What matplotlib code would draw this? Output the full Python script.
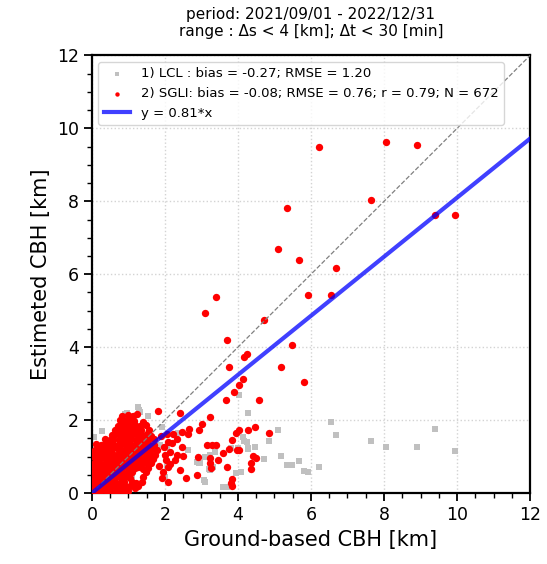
import numpy as np
import matplotlib
matplotlib.use('Agg')
import matplotlib.pyplot as plt

# 散点数据：地基观测的云底高度 (km) 与卫星 / LCL 估计值
# 密集区（0-2 km）的 SGLI 点
cluster_x = [
    0.03, 0.16, 0.27, 0.40, 0.50, 0.64, 0.74, 0.88, 0.99,
    0.08, 0.21, 0.31, 0.45, 0.55, 0.69, 0.79, 0.93, 1.03, 1.17, 1.27,
    0.02, 0.15, 0.25, 0.39, 0.49, 0.63, 0.73, 0.87, 1.11, 1.21, 1.37,
    0.09, 0.19, 0.33, 0.43, 0.57, 0.67, 0.81, 0.91, 1.05, 1.41,
    0.03, 0.13, 0.27, 0.37, 0.51, 0.61, 0.75, 0.85, 0.99, 1.09, 1.48,
    0.08, 0.21, 0.31, 0.45, 0.55, 0.69, 0.79, 0.93, 1.03, 1.17, 1.27, 1.41, 1.55,
    0.02, 0.15, 0.25, 0.39, 0.49, 0.63, 0.73, 0.87, 0.97, 1.11, 1.21, 1.35, 1.47, 1.61,
    0.09, 0.19, 0.33, 0.43, 0.57, 0.67, 0.81, 0.91, 1.05, 1.15, 1.29, 1.39, 1.53, 1.67,
    0.03, 0.13, 0.27, 0.37, 0.51, 0.61, 0.75, 0.85, 0.99, 1.09, 1.23, 1.33, 1.47, 1.59, 1.73,
    0.08, 0.21, 0.31, 0.45, 0.55, 0.69, 0.79, 0.93, 1.03, 1.17, 1.27, 1.41, 1.51, 1.65, 1.79,
    0.11, 0.25, 0.35, 0.49, 0.59, 0.73, 0.83, 0.97, 1.07, 1.21, 1.31, 1.45, 1.57, 1.71,
    0.36, 0.49, 0.59, 0.73, 0.83, 0.97, 1.07, 1.21, 1.31, 1.45, 1.55, 1.69,
    0.55, 0.66, 0.79, 0.89, 1.03, 1.13, 1.27, 1.37, 1.51, 1.63,
    0.63, 0.75, 0.85, 0.99, 1.09, 1.23, 1.35, 1.57,
    0.71, 0.81, 0.95, 1.05, 1.19, 1.31, 1.49,
    0.77, 0.91, 1.01, 1.15, 1.41,
    0.82, 0.99, 1.12, 1.24, 1.82,
]
cluster_y = [
    0.05, 0.03, 0.07, 0.02, 0.06, 0.04, 0.08, 0.03, 0.05,
    0.17, 0.14, 0.19, 0.15, 0.18, 0.13, 0.17, 0.16, 0.19, 0.14, 0.18,
    0.30, 0.27, 0.31, 0.28, 0.32, 0.29, 0.26, 0.31, 0.30, 0.27, 0.31,
    0.41, 0.44, 0.40, 0.43, 0.42, 0.45, 0.40, 0.43, 0.41, 0.45,
    0.56, 0.53, 0.57, 0.54, 0.55, 0.58, 0.53, 0.56, 0.54, 0.57, 0.57,
    0.69, 0.66, 0.70, 0.67, 0.71, 0.68, 0.66, 0.70, 0.67, 0.69, 0.71, 0.66, 0.69,
    0.80, 0.83, 0.79, 0.82, 0.80, 0.84, 0.81, 0.79, 0.83, 0.80, 0.82, 0.79, 0.83, 0.81,
    0.95, 0.92, 0.96, 0.93, 0.94, 0.97, 0.92, 0.95, 0.93, 0.96, 0.94, 0.92, 0.96, 0.93,
    1.06, 1.09, 1.05, 1.08, 1.07, 1.05, 1.09, 1.06, 1.08, 1.05, 1.07, 1.09, 1.06, 1.08, 1.05,
    1.19, 1.22, 1.18, 1.21, 1.20, 1.23, 1.19, 1.21, 1.18, 1.22, 1.20, 1.19, 1.23, 1.20, 1.18,
    1.34, 1.31, 1.35, 1.32, 1.34, 1.31, 1.35, 1.33, 1.31, 1.34, 1.32, 1.35, 1.31, 1.33,
    1.47, 1.44, 1.48, 1.45, 1.47, 1.44, 1.48, 1.46, 1.44, 1.47, 1.45, 1.48,
    1.58, 1.61, 1.57, 1.60, 1.59, 1.62, 1.58, 1.60, 1.61, 1.57,
    1.73, 1.70, 1.74, 1.71, 1.73, 1.70, 1.74, 1.72,
    1.84, 1.87, 1.85, 1.83, 1.86, 1.84, 1.87,
    1.99, 1.97, 2.00, 1.98, 1.96,
    2.11, 2.13, 2.10, 2.17, 2.25,
]

# 密集区外散开的 SGLI 点
scatter_x = [1.97, 2.05, 2.09, 2.20, 2.23, 2.14, 2.32, 2.32, 2.27, 2.03, 2.46, 2.41,
             2.48, 2.50, 2.63, 2.67, 2.94, 3.02, 3.23, 3.67, 1.95, 2.09, 2.59, 2.87,
             2.09, 3.14, 3.28, 3.40, 3.23, 3.23, 3.46, 3.58, 3.69, 3.85, 3.98, 4.04,
             3.96, 4.02, 3.85, 3.82, 3.84, 4.02, 3.90, 2.91, 3.26, 3.75, 1.88, 1.85,
             2.00, 2.15, 2.40, 1.92, 4.48, 4.27, 4.40, 4.49, 4.36, 4.36, 3.76, 4.14]
scatter_y = [1.27, 1.61, 1.40, 1.36, 1.61, 1.13, 1.47, 1.04, 0.91, 0.91, 1.68, 2.19,
             1.27, 1.01, 1.61, 1.75, 1.73, 1.89, 2.08, 2.55, 0.58, 0.70, 0.40, 0.49,
             0.31, 1.32, 1.32, 1.31, 0.95, 0.83, 0.91, 1.09, 0.70, 1.45, 1.18, 1.18,
             1.65, 1.73, 0.38, 0.28, 0.19, 2.95, 2.78, 0.99, 0.69, 1.20, 1.55, 0.75,
             1.05, 0.80, 0.63, 0.40, 1.81, 1.73, 1.01, 0.97, 0.81, 0.66, 3.45, 3.14]

# 高值点：同一地基观测对应的 SGLI 和 LCL 估计
ground_km = [6.22, 8.06, 8.90, 7.64, 5.34, 9.41, 9.95, 5.09, 5.67, 6.68, 6.55, 5.93,
             4.70, 5.49, 5.18, 5.81, 4.85]
sgli_km = [9.49, 9.63, 9.54, 8.05, 7.81, 7.62, 7.63, 6.68, 6.39, 6.16, 5.43, 5.43,
           4.75, 4.05, 3.46, 3.05, 1.65]
lcl_km = [0.72, 1.26, 1.26, 1.43, 0.76, 1.75, 1.15, 1.73, 0.87, 1.59, 1.94, 0.58,
          0.93, 0.76, 1.01, 0.61, 1.43]

# 其余只出现一次的 SGLI 高值点
extra_x = [3.40, 3.10, 3.69, 4.26, 4.17, 4.59]
extra_y = [5.37, 4.95, 4.19, 3.80, 3.72, 2.55]

# 其余 LCL 点
lcl_x = [4.27, 4.15, 4.16, 4.27, 4.47, 4.09, 4.02, 3.80, 3.96, 3.60, 3.69, 3.37,
         3.10, 2.96, 3.23, 3.32, 2.87, 2.00, 3.10, 1.91, 0.28, 1.29, 1.54, 0.97,
         2.36, 2.62, 2.93, 3.21, 3.08, 2.05, 3.24, 2.06, 1.86, 0.05, 1.27, 1.32,
         0.90, 4.01, 4.24, 4.28, 0.4, 0.6, 0.8, 1.0, 1.2, 0.3, 0.7, 1.1, 1.4]
lcl_y = [2.19, 1.53, 1.43, 1.22, 1.26, 0.58, 2.69, 1.23, 0.56, 0.17, 0.16, 1.13,
         1.00, 0.83, 0.63, 0.70, 0.86, 0.45, 0.31, 1.82, 1.70, 2.28, 2.11, 2.19,
         1.65, 1.18, 0.81, 0.65, 0.36, 0.72, 1.04, 1.23, 1.32, 1.54, 2.35, 2.23,
         2.17, 1.23, 1.41, 1.23, 0.5, 0.9, 0.6, 1.2, 0.8, 1.0, 1.3, 0.4, 1.0]

slope = 0.81
title = 'period: 2021/09/01 - 2022/12/31\nrange : Δs < 4 [km]; Δt < 30 [min]'
label_lcl = '1) LCL : bias = -0.27; RMSE = 1.20'
label_sgli = '2) SGLI: bias = -0.08; RMSE = 0.76; r = 0.79; N = 672'

fig = plt.figure(figsize=(5.47, 5.64), dpi=100)
ax = fig.add_axes([0.168, 0.1259, 0.801, 0.7757])

gx = np.concatenate([lcl_x, ground_km])
gy = np.concatenate([lcl_y, lcl_km])
ax.scatter(gx, gy, s=17, marker='s', color='silver', linewidths=0, label=label_lcl, zorder=2)

sx = np.concatenate([cluster_x, scatter_x, ground_km, extra_x])
sy = np.concatenate([cluster_y, scatter_y, sgli_km, extra_y])
ax.scatter(sx, sy, s=28, marker='o', color='red', linewidths=0, label=label_sgli, zorder=3)

xx = np.array([0, 12])
ax.plot(xx, xx, '--', color='gray', lw=0.9, zorder=4)
ax.plot(xx, slope * xx, color='blue', alpha=0.75, lw=3, label='y = %.2f*x' % slope, zorder=5)

ax.set_xlim(0, 12)
ax.set_ylim(0, 12)
ax.set_xticks(range(0, 13, 2))
ax.set_yticks(range(0, 13, 2))
ax.set_xticks(np.arange(0, 12.01, 0.5), minor=True)
ax.set_yticks(np.arange(0, 12.01, 0.5), minor=True)
ax.tick_params(which='major', length=6, width=1.3, labelsize=12.5, direction='out')
ax.tick_params(which='minor', length=3.5, width=1.0, direction='out')
ax.grid(True, which='major', linestyle=':', color='lightgray', lw=1)
for sp in ax.spines.values():
    sp.set_linewidth(1.6)

ax.set_xlabel('Ground-based CBH [km]', fontsize=15)
ax.set_ylabel('Estimeted CBH [km]', fontsize=15)
ax.set_title(title, fontsize=11, pad=14)

leg = ax.legend(loc='upper left', fontsize=9.5)
leg.legend_handles[0].set_sizes([9])
leg.legend_handles[1].set_sizes([10])

fig.savefig('out.png', dpi=100)
